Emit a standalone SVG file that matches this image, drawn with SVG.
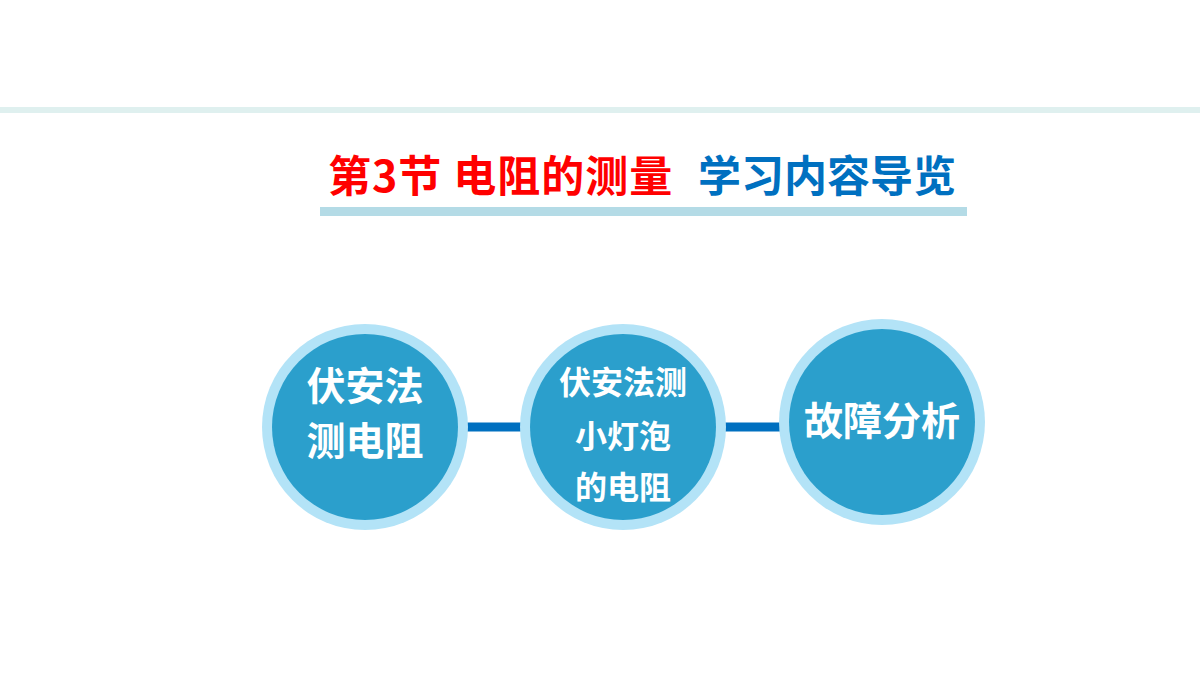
<svg xmlns="http://www.w3.org/2000/svg" width="1200" height="675" viewBox="0 0 1200 675">
<defs>
<style>
.ring{fill:#b3e3f7}
.core{fill:#2b9fcc}
.lbl{font-family:"Noto Sans CJK SC","Noto Sans",sans-serif;font-weight:bold;fill:#ffffff;text-anchor:middle;dominant-baseline:central}
.title{font-family:"Noto Sans CJK SC","Noto Sans",sans-serif;font-weight:bold;font-size:43px;dominant-baseline:central}
.conn{stroke:#0070c0;stroke-width:9;fill:none}
</style>
</defs>
<rect x="0" y="0" width="1200" height="675" fill="#ffffff"/>
<rect x="0" y="107" width="1200" height="6" fill="#dff0ef"/>
<g id="title">
<text class="title" x="328" y="173" fill="#ff0000" letter-spacing="1">第3节 电阻的测量</text>
<text class="title" x="698" y="173" fill="#0070c0">学习内容导览</text>
<rect x="320" y="207" width="647" height="9" fill="#b4dbe6"/>
</g>
<g id="connectors">
<line class="conn" x1="466" y1="427" x2="522" y2="427"/>
<line class="conn" x1="724" y1="427" x2="781" y2="427"/>
</g>
<g id="node1">
<circle class="ring" cx="365" cy="427" r="103"/>
<circle class="core" cx="365" cy="427" r="93"/>
<text class="lbl" x="365" y="383" font-size="39">伏安法</text>
<text class="lbl" x="365" y="438" font-size="39">测电阻</text>
</g>
<g id="node2">
<circle class="ring" cx="623" cy="427" r="103"/>
<circle class="core" cx="623" cy="427" r="93"/>
<text class="lbl" x="623" y="380" font-size="32">伏安法测</text>
<text class="lbl" x="623" y="434" font-size="32">小灯泡</text>
<text class="lbl" x="623" y="485" font-size="32">的电阻</text>
</g>
<g id="node3">
<circle class="ring" cx="882" cy="422" r="103"/>
<circle class="core" cx="882" cy="422" r="93"/>
<text class="lbl" x="882" y="418" font-size="39">故障分析</text>
</g>
</svg>
